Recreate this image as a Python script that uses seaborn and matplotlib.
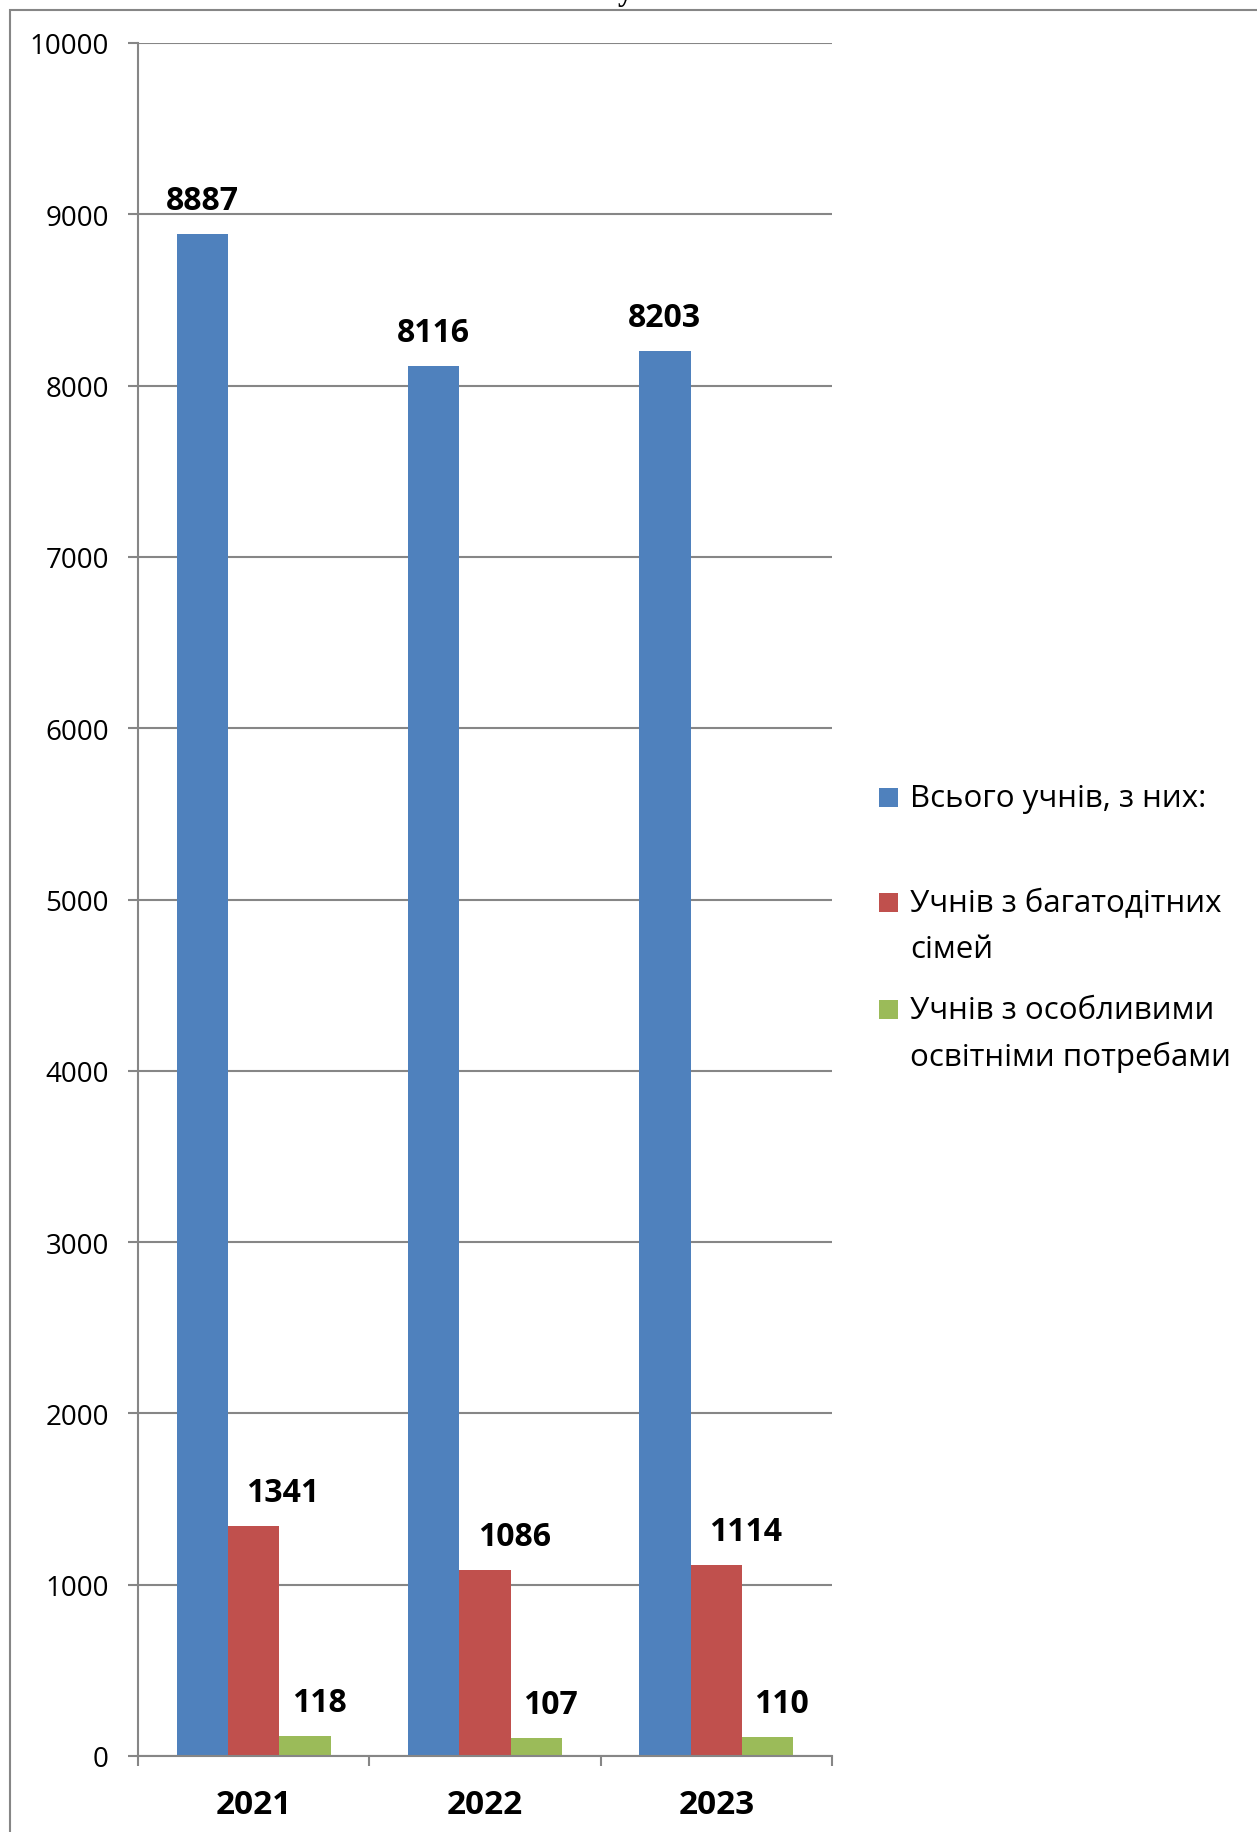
import pandas as pd
import matplotlib
matplotlib.use("Agg")
import matplotlib.pyplot as plt
from matplotlib.patches import Rectangle
import seaborn as sns

# --- Дані ---
years = ["2021", "2022", "2023"]
series_names = [
    "Всього учнів, з них:",
    "Учнів з багатодітних\nсімей",
    "Учнів з особливими\nосвітніми потребами",
]
total_pupils = [8887, 8116, 8203]
large_families = [1341, 1086, 1114]
special_needs = [118, 107, 110]
y_ticks = list(range(0, 10001, 1000))

colors = ["#4F81BD", "#C0504D", "#9BBB59"]
GRAY = "#868686"

# --- Таблиця для seaborn ---
rows = []
for name, values in zip(series_names, [total_pupils, large_families, special_needs]):
    for year, v in zip(years, values):
        rows.append({"year": year, "series": name, "count": v})
df = pd.DataFrame(rows)

sns.set_theme(style="white")
plt.rcParams["font.family"] = ["Open Sans", "DejaVu Sans"]
plt.rcParams["text.color"] = "black"
plt.rcParams["xtick.labelcolor"] = "black"
plt.rcParams["ytick.labelcolor"] = "black"

W, H = 1257, 1833
fig = plt.figure(figsize=(W / 100, H / 100), dpi=100)
ax = fig.add_axes([138 / W, 1 - 1757 / H, (832 - 138) / W, (1757 - 44) / H])

sns.barplot(data=df, x="year", y="count", hue="series", hue_order=series_names,
            palette=colors, width=0.667, gap=0, saturation=1, linewidth=0,
            legend=False, ax=ax)

# --- Осі та сітка ---
ax.set_ylim(0, 10000)
ax.set_yticks(y_ticks)
ax.set_yticklabels([str(t) for t in y_ticks], fontsize=20)
ax.set_xlim(-0.5, 2.5)
ax.set_xticks([-0.5, 0.5, 1.5, 2.5])
ax.set_xticklabels([])
ax.set_xticks(range(len(years)), minor=True)
ax.set_xticklabels(years, minor=True, fontsize=24, fontweight="bold")
ax.set_xlabel("")
ax.set_ylabel("")

ax.yaxis.grid(True, color=GRAY, linewidth=1.5)
ax.set_axisbelow(True)
ax.tick_params(axis="y", which="major", length=7, width=1.5, color=GRAY, pad=14, left=True)
ax.tick_params(axis="x", which="major", length=7, width=1.5, color=GRAY, bottom=True, direction="out")
ax.tick_params(axis="x", which="minor", length=0, pad=23)

for side in ["top", "right"]:
    ax.spines[side].set_visible(False)
for side in ["left", "bottom"]:
    ax.spines[side].set_color(GRAY)
    ax.spines[side].set_linewidth(1.5)

# --- Підписи значень ---
offsets = [0, 21, 10]
for container, dx in zip(ax.containers, offsets):
    for bar in container:
        h = bar.get_height()
        ax.annotate(f"{int(round(h))}", xy=(bar.get_x() + bar.get_width() / 2, h),
                    xytext=(dx, 24), textcoords="offset points",
                    ha="center", va="center", fontsize=23, fontweight="bold")

# --- Легенда (вручну, як в Excel) ---
legend_y = [799, 904, 1011]
line_step = 46
for name, color, y0 in zip(series_names, colors, legend_y):
    fig.add_artist(Rectangle((879 / W, 1 - (y0 + 9) / H), 19 / W, 19 / H,
                             transform=fig.transFigure, facecolor=color, edgecolor="none"))
    for i, line in enumerate(name.split("\n")):
        fig.text(910 / W, 1 - (y0 + i * line_step) / H, line, fontsize=22.5,
                 ha="left", va="center")

# --- Рамка діаграми та залишок заголовка ---
fig.add_artist(Rectangle((10 / W, -0.1), 1.2, 1.1 - 11 / H, transform=fig.transFigure,
                         fill=False, edgecolor=GRAY, linewidth=1.5))
fig.text(625 / W, 1.0, "у", family=["Liberation Serif", "DejaVu Serif"], fontsize=22,
         fontweight="bold", ha="center", va="baseline")

fig.savefig("out.png", dpi=100)
